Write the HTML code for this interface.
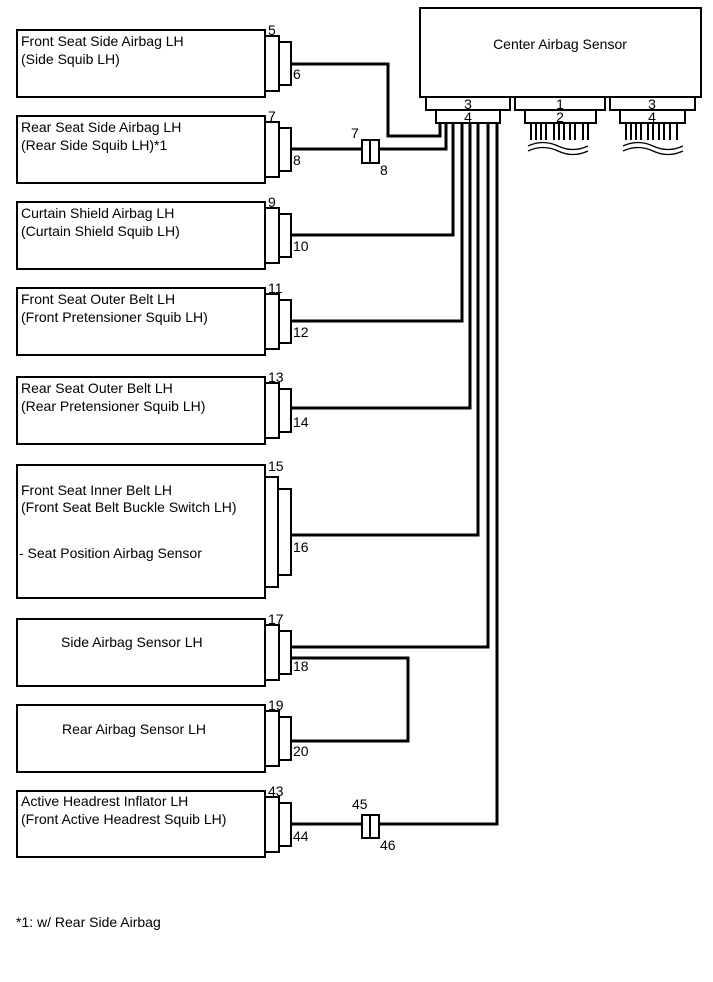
<!DOCTYPE html>
<html><head><style>body{margin:0;background:#fff}svg{display:block}text{font-family:"Liberation Sans",Arial,sans-serif;font-size:14px;fill:#000}</style></head><body>
<svg width="713" height="982" viewBox="0 0 713 982" xmlns="http://www.w3.org/2000/svg">
<g fill="#fff" stroke="#000" stroke-width="2">
<rect x="420" y="8" width="281" height="89"/>
<rect x="426" y="97" width="84" height="13"/><rect x="436" y="110" width="64" height="13"/>
<rect x="515" y="97" width="90" height="13"/><rect x="525" y="110" width="71" height="13"/>
<rect x="610" y="97" width="85" height="13"/><rect x="620" y="110" width="65" height="13"/>
</g>
<text x="560" y="49" text-anchor="middle">Center Airbag Sensor</text>
<g text-anchor="middle"><text x="468" y="109">3</text><text x="468" y="122">4</text>
<text x="560" y="109">1</text><text x="560" y="122">2</text>
<text x="652" y="109">3</text><text x="652" y="122">4</text></g>
<g stroke="#000" stroke-width="2">
<path d="M531 123v17M536 123v17M541 123v17M546 123v17M554 123v17M559 123v17M564 123v17M570 123v17M575 123v17M583 123v17M588 123v17"/>
<path d="M626 123v17M631 123v17M636 123v17M641 123v17M648 123v17M653 123v17M659 123v17M664 123v17M670 123v17M677 123v17"/>
</g>
<g fill="none" stroke="#000" stroke-width="1.3">
<path d="M528 146q15-7 30 0t30 0"/><path d="M528 151q15-7 30 0t30 0"/>
<path d="M623 146q15-7 30 0t30 0"/><path d="M623 151q15-7 30 0t30 0"/>
</g>
<g fill="none" stroke="#000" stroke-width="3">
<path d="M291 64H388V136H440V123"/>
<path d="M291 149H362M379 149H446V123"/>
<path d="M291 235H453V123"/>
<path d="M291 321H462V123"/>
<path d="M291 408H470V123"/>
<path d="M291 535H478V123"/>
<path d="M291 647H488V123"/>
<path d="M291 658H408V741H291"/>
<path d="M291 824H362M379 824H497V123"/>
</g>
<g fill="#fff" stroke="#000" stroke-width="2">
<rect x="362" y="140" width="17" height="23"/><line x1="370" y1="140" x2="370" y2="163"/>
<rect x="362" y="815" width="17" height="23"/><line x1="370" y1="815" x2="370" y2="838"/>
</g>
<text x="351" y="138">7</text><text x="380" y="175">8</text>
<text x="352" y="809">45</text><text x="380" y="850">46</text>
<g fill="#fff" stroke="#000" stroke-width="2">
<rect x="17" y="30" width="248" height="67"/><rect x="265" y="36" width="14" height="55"/><rect x="279" y="42" width="12" height="43"/>
<rect x="17" y="116" width="248" height="67"/><rect x="265" y="122" width="14" height="55"/><rect x="279" y="128" width="12" height="43"/>
<rect x="17" y="202" width="248" height="67"/><rect x="265" y="208" width="14" height="55"/><rect x="279" y="214" width="12" height="43"/>
<rect x="17" y="288" width="248" height="67"/><rect x="265" y="294" width="14" height="55"/><rect x="279" y="300" width="12" height="43"/>
<rect x="17" y="377" width="248" height="67"/><rect x="265" y="383" width="14" height="55"/><rect x="279" y="389" width="12" height="43"/>
<rect x="17" y="465" width="248" height="133"/><rect x="265" y="477" width="13" height="110"/><rect x="278" y="489" width="13" height="86"/>
<rect x="17" y="619" width="248" height="67"/><rect x="265" y="625" width="14" height="55"/><rect x="279" y="631" width="12" height="43"/>
<rect x="17" y="705" width="248" height="67"/><rect x="265" y="711" width="14" height="55"/><rect x="279" y="717" width="12" height="43"/>
<rect x="17" y="791" width="248" height="66"/><rect x="265" y="797" width="14" height="55"/><rect x="279" y="803" width="12" height="43"/>
</g>
<text x="268" y="35">5</text><text x="293" y="79">6</text>
<text x="268" y="121">7</text><text x="293" y="165">8</text>
<text x="268" y="207">9</text><text x="293" y="251">10</text>
<text x="268" y="293">11</text><text x="293" y="337">12</text>
<text x="268" y="382">13</text><text x="293" y="427">14</text>
<text x="268" y="471">15</text><text x="293" y="552">16</text>
<text x="268" y="624">17</text><text x="293" y="671">18</text>
<text x="268" y="710">19</text><text x="293" y="756">20</text>
<text x="268" y="796">43</text><text x="293" y="841">44</text>
<text x="21" y="46">Front Seat Side Airbag LH</text><text x="21" y="64">(Side Squib LH)</text>
<text x="21" y="132">Rear Seat Side Airbag LH</text><text x="21" y="150">(Rear Side Squib LH)*1</text>
<text x="21" y="218">Curtain Shield Airbag LH</text><text x="21" y="236">(Curtain Shield Squib LH)</text>
<text x="21" y="304">Front Seat Outer Belt LH</text><text x="21" y="322">(Front Pretensioner Squib LH)</text>
<text x="21" y="393">Rear Seat Outer Belt LH</text><text x="21" y="411">(Rear Pretensioner Squib LH)</text>
<text x="21" y="495">Front Seat Inner Belt LH</text><text x="21" y="512">(Front Seat Belt Buckle Switch LH)</text>
<text x="19" y="558">- Seat Position Airbag Sensor</text>
<text x="61" y="647">Side Airbag Sensor LH</text>
<text x="62" y="734">Rear Airbag Sensor LH</text>
<text x="21" y="806">Active Headrest Inflator LH</text><text x="21" y="824">(Front Active Headrest Squib LH)</text>
<text x="16" y="927">*1: w/ Rear Side Airbag</text>
</svg>
</body></html>
